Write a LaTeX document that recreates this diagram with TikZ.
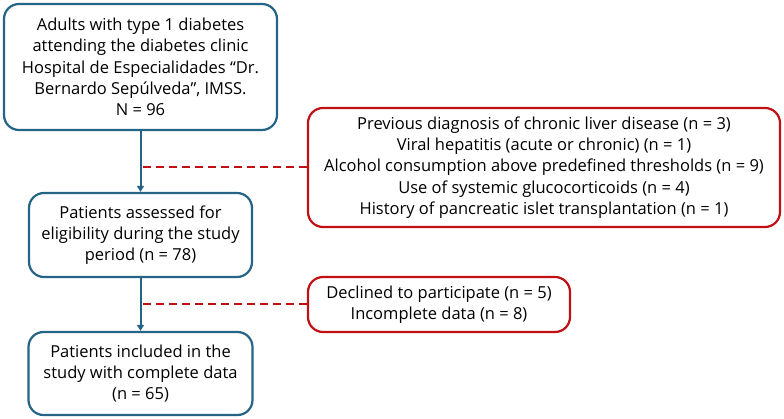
\documentclass[tikz,border=0pt]{standalone}
\usepackage{fontspec}
\setmainfont{Open Sans}
\usepackage{tikz}
\usetikzlibrary{arrows.meta}
\definecolor{flowblue}{RGB}{36,100,135}
\definecolor{flowred}{RGB}{192,16,20}

\begin{document}
\begin{tikzpicture}[x=1pt, y=1pt,
  font=\fontsize{16.5}{21.3}\selectfont,
  mainbox/.style={draw=flowblue, line width=2.2pt, rounded corners=15pt, align=center, inner sep=0pt},
  exclbox/.style={draw=flowred, line width=2.2pt, rounded corners=15pt, align=center, inner sep=0pt},
  flowarrow/.style={draw=flowblue, line width=2pt, -{Triangle[length=6pt, width=7pt]}},
  exclline/.style={draw=flowred, line width=2pt, dash pattern=on 8pt off 5pt}]
  \useasboundingbox (0,0) rectangle (784,419);
  \node[mainbox, minimum width=273, minimum height=126] (adults) at (140.5,352) {Adults with type 1 diabetes\\ attending the diabetes clinic\\ Hospital de Especialidades “Dr.\\ Bernardo Sepúlveda”, IMSS.\\ N = 96};
  \node[mainbox, minimum width=223, minimum height=84] (assessed) at (140.5,184) {Patients assessed for\\ eligibility during the study\\ period (n = 78)};
  \node[mainbox, minimum width=224, minimum height=83] (included) at (140.5,45.5) {Patients included in the\\ study with complete data\\ (n = 65)};
  \node[exclbox, minimum width=472, minimum height=119] (excl1) at (544,251.5) {Previous diagnosis of chronic liver disease (n = 3)\\ Viral hepatitis (acute or chronic) (n = 1)\\ Alcohol consumption above predefined thresholds (n = 9)\\ Use of systemic glucocorticoids (n = 4)\\ History of pancreatic islet transplantation (n = 1)};
  \node[exclbox, minimum width=262, minimum height=55] (excl2) at (439,114.5) {Declined to participate (n = 5)\\ Incomplete data (n = 8)};
  \draw[flowarrow] (adults) -- (assessed);
  \draw[flowarrow] (assessed) -- (included);
  \draw[exclline] (excl1.west) -- (excl1.west -| adults.south);
  \draw[exclline] (excl2.west) -- (excl2.west -| assessed.south);
\end{tikzpicture}
\end{document}
